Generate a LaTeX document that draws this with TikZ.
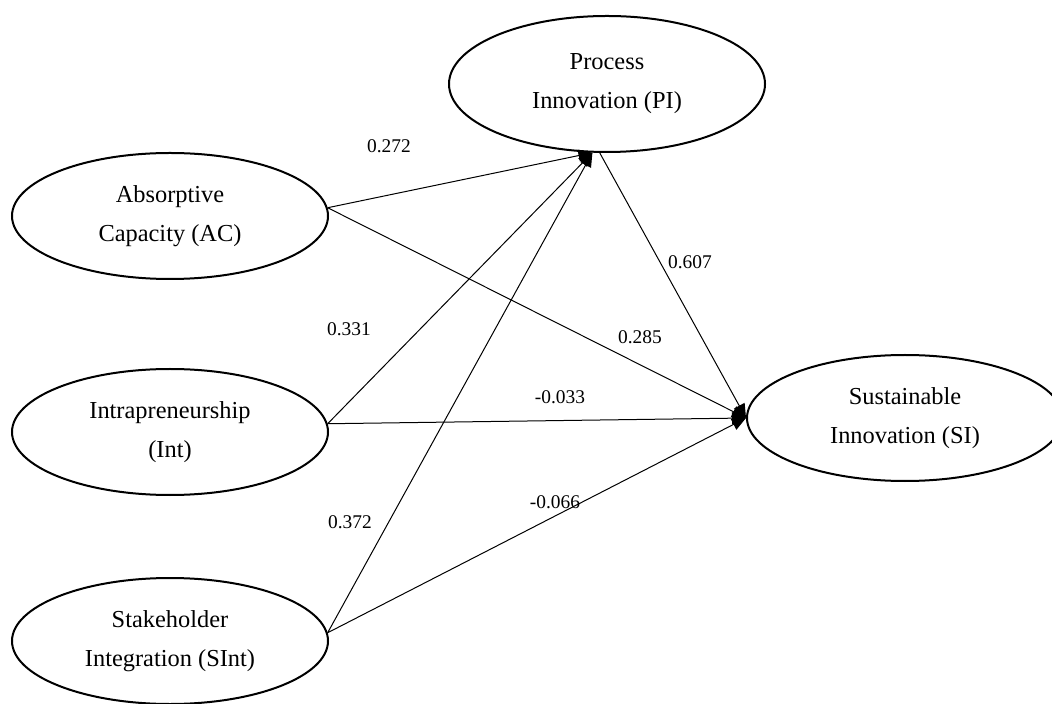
\documentclass[tikz,border=0pt]{standalone}
\usepackage{fontspec}
\setmainfont{Liberation Serif}
\usetikzlibrary{shapes.geometric,arrows.meta}

\begin{document}
\begin{tikzpicture}[x=0.5pt,y=-0.5pt,
    latent/.style={ellipse,draw,line width=1pt,minimum width=158pt,minimum height=63pt,
      inner sep=0pt,align=center,font=\fontsize{12.2}{19.5}\selectfont},
    effect/.style={-{Triangle[length=7pt,width=6pt]},line width=0.5pt},
    coef/.style={font=\fontsize{9.7}{12}\selectfont,inner sep=0pt}]
    \useasboundingbox (0,0) rectangle (1052,704);

    \node[latent,minimum height=68pt] (PI) at (607,84) {Process\\Innovation (PI)};
    \node[latent] (AC) at (170,216) {Absorptive\\Capacity (AC)};
    \node[latent] (Int) at (170,432) {Intrapreneurship\\(Int)};
    \node[latent] (SInt) at (170,641) {Stakeholder\\Integration (SInt)};
    \node[latent] (SI) at (905,418) {Sustainable\\Innovation (SI)};

    \draw[effect] (AC.3) -- (PI.258);
    \draw[effect] (Int.3) -- (PI.258);
    \draw[effect] (SInt.3) -- (PI.258);
    \draw[effect] (AC.3) -- (SI.west);
    \draw[effect] (Int.3) -- (SI.west);
    \draw[effect] (SInt.3) -- (SI.west);
    \draw[effect] (PI.264) -- (SI.west);

    \node[coef] (cAC) at (389,146) {0.272};
    \node[coef] (cInt) at (349,329) {0.331};
    \node[coef] (cSInt) at (350,522) {0.372};
    \node[coef] (cPI) at (690,262) {0.607};
    \node[coef] (dAC) at (640,337) {0.285};
    \node[coef] (dInt) at (560,397) {-0.033};
    \node[coef] (dSInt) at (555,502) {-0.066};
\end{tikzpicture}
\end{document}
